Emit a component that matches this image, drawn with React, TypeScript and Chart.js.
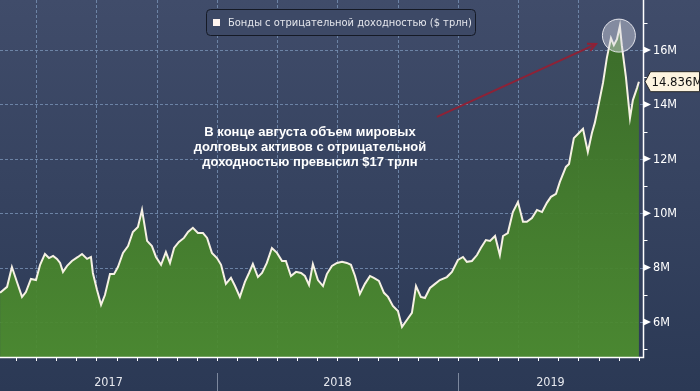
import React, { useEffect, useRef } from "react";
import { Chart, registerables } from "chart.js";
Chart.register(...registerables);

// decimal-year dates of each vertex
const dates = [
  2017.100, 2017.129, 2017.149, 2017.170, 2017.191, 2017.207, 2017.228, 2017.249, 2017.266, 2017.286,
  2017.303, 2017.320, 2017.336, 2017.349, 2017.361, 2017.378, 2017.398, 2017.423, 2017.440, 2017.461,
  2017.477, 2017.485, 2017.502, 2017.519, 2017.535, 2017.556, 2017.573, 2017.589, 2017.610, 2017.631,
  2017.651, 2017.672, 2017.689, 2017.710, 2017.730, 2017.747, 2017.768, 2017.788, 2017.805, 2017.822,
  2017.842, 2017.863, 2017.880, 2017.900, 2017.921, 2017.942, 2017.959, 2017.979, 2018.000, 2018.017,
  2018.037, 2018.058, 2018.075, 2018.095, 2018.116, 2018.133, 2018.149, 2018.170, 2018.187, 2018.207,
  2018.228, 2018.249, 2018.270, 2018.286, 2018.307, 2018.328, 2018.349, 2018.365, 2018.382, 2018.398,
  2018.419, 2018.440, 2018.456, 2018.477, 2018.498, 2018.519, 2018.539, 2018.556, 2018.573, 2018.593,
  2018.614, 2018.635, 2018.651, 2018.672, 2018.693, 2018.710, 2018.730, 2018.751, 2018.768, 2018.788,
  2018.809, 2018.826, 2018.846, 2018.863, 2018.884, 2018.905, 2018.925, 2018.954, 2018.975, 2019.000,
  2019.021, 2019.037, 2019.058, 2019.079, 2019.095, 2019.116, 2019.133, 2019.154, 2019.174, 2019.187,
  2019.207, 2019.228, 2019.249, 2019.270, 2019.286, 2019.307, 2019.328, 2019.349, 2019.369, 2019.386,
  2019.407, 2019.423, 2019.448, 2019.461, 2019.481, 2019.498, 2019.519, 2019.539, 2019.556, 2019.568,
  2019.581, 2019.602, 2019.618, 2019.635, 2019.647, 2019.660, 2019.672, 2019.680, 2019.697, 2019.714,
  2019.726, 2019.743, 2019.751,
];

// negative-yield bonds, $ trillion (shown as "M" on the axis)
const values = [
  7.07, 7.29, 8.02, 7.47, 6.92, 7.10, 7.58, 7.54, 8.10, 8.50,
  8.35, 8.43, 8.32, 8.17, 7.84, 8.06, 8.24, 8.39, 8.50, 8.32,
  8.39, 7.80, 7.18, 6.63, 6.99, 7.76, 7.76, 8.02, 8.54, 8.79,
  9.31, 9.49, 10.12, 8.98, 8.79, 8.39, 8.10, 8.57, 8.17, 8.72,
  8.94, 9.09, 9.31, 9.46, 9.27, 9.27, 9.09, 8.54, 8.35, 8.10,
  7.40, 7.62, 7.32, 6.92, 7.47, 7.80, 8.13, 7.65, 7.80, 8.17,
  8.72, 8.54, 8.24, 8.24, 7.69, 7.84, 7.80, 7.69, 7.36, 8.13,
  7.54, 7.32, 7.76, 8.06, 8.17, 8.21, 8.17, 8.10, 7.69, 7.03,
  7.40, 7.69, 7.62, 7.51, 7.07, 6.92, 6.59, 6.40, 5.82, 6.07,
  6.33, 7.32, 6.92, 6.88, 7.25, 7.40, 7.54, 7.65, 7.84, 8.28,
  8.39, 8.21, 8.24, 8.46, 8.72, 9.01, 8.98, 9.16, 8.46, 9.16,
  9.27, 10.04, 10.41, 9.68, 9.68, 9.82, 10.12, 10.04, 10.38, 10.60,
  10.71, 11.15, 11.70, 11.81, 12.76, 12.91, 13.10, 12.25, 12.95, 13.32,
  13.87, 14.79, 15.71, 16.44, 16.18, 16.40, 16.88, 16.18, 15.01, 13.50,
  14.16, 14.60, 14.836,
];

const yMajorTicks = [6, 8, 10, 12, 14, 16];
const yMinorTicks = [5, 7, 9, 11, 13, 15, 17];
const yearStarts = [2017, 2018, 2019];
const yearLabels = ["2017", "2018", "2019"];
const lastValueLabel = "14.836M";
const legendLabel = "Бонды с отрицательной доходностью ($ трлн)";
const noteLines = [
  "В конце августа объем мировых",
  "долговых активов с отрицательной",
  "доходностью превысил $17 трлн",
];

const X_MIN = 2017.0996;
const X_MAX = 2019.768;
const Y_MIN = 4.71;
const Y_MAX = 17.84;

const AXIS_FONT = "'DejaVu Sans Condensed', 'Liberation Sans Narrow', 'DejaVu Sans', sans-serif";

const decorPlugin = {
  id: "decor",
  beforeDraw(chart: any) {
    const { ctx, width, height } = chart;
    const g = ctx.createLinearGradient(0, 0, 0, height);
    g.addColorStop(0, "#404c6a");
    g.addColorStop(1, "#2b3955");
    ctx.save();
    ctx.fillStyle = g;
    ctx.fillRect(0, 0, width, height);
    ctx.restore();
  },
  beforeDatasetsDraw(chart: any) {
    const { ctx, chartArea } = chart;
    const xs = chart.scales.x;
    const ys = chart.scales.y;
    ctx.save();
    ctx.strokeStyle = "rgba(118,142,178,0.85)";
    ctx.lineWidth = 1;
    ctx.setLineDash([3, 2]);
    yMajorTicks.forEach((v) => {
      const y = Math.round(ys.getPixelForValue(v)) + 0.5;
      ctx.beginPath();
      ctx.moveTo(chartArea.left, y);
      ctx.lineTo(chartArea.right, y);
      ctx.stroke();
    });
    for (let q = 2017; q <= 2019.75; q += 0.25) {
      const x = Math.round(xs.getPixelForValue(q)) + 0.5;
      if (x <= chartArea.left + 2 || x >= chartArea.right - 6) continue;
      ctx.beginPath();
      ctx.moveTo(x, chartArea.top);
      ctx.lineTo(x, chartArea.bottom);
      ctx.stroke();
    }
    ctx.restore();
  },
  afterDatasetsDraw(chart: any) {
    const { ctx, chartArea, width, height } = chart;
    const xs = chart.scales.x;
    const ys = chart.scales.y;
    ctx.save();

    // axes lines
    ctx.strokeStyle = "#ffffff";
    ctx.lineWidth = 1.5;
    ctx.beginPath();
    ctx.moveTo(chartArea.left, chartArea.bottom + 0.5);
    ctx.lineTo(chartArea.right + 0.5, chartArea.bottom + 0.5);
    ctx.lineTo(chartArea.right + 0.5, chartArea.top);
    ctx.stroke();

    // monthly ticks on x axis
    ctx.lineWidth = 1;
    for (let m = 0; m < 12 * 3; m++) {
      const t = 2017 + m / 12;
      const x = Math.round(xs.getPixelForValue(t)) + 0.5;
      if (x < chartArea.left + 2 || x > chartArea.right - 2) continue;
      ctx.beginPath();
      ctx.moveTo(x, chartArea.bottom + 1);
      ctx.lineTo(x, chartArea.bottom + 4);
      ctx.stroke();
    }

    // year separators and labels
    ctx.strokeStyle = "rgba(160,170,190,0.7)";
    yearStarts.forEach((yr, i) => {
      const x0 = Math.max(chartArea.left, xs.getPixelForValue(yr));
      const x1 = Math.min(chartArea.right, xs.getPixelForValue(yr + 1));
      if (i > 0) {
        const xx = Math.round(x0) + 0.5;
        ctx.beginPath();
        ctx.moveTo(xx, chartArea.bottom + 16);
        ctx.lineTo(xx, height);
        ctx.stroke();
      }
      ctx.fillStyle = "#e6e8ee";
      ctx.font = "12.5px " + AXIS_FONT;
      ctx.textAlign = "center";
      ctx.textBaseline = "middle";
      ctx.fillText(yearLabels[i], (x0 + x1) / 2, chartArea.bottom + 26);
    });

    // y axis ticks and labels
    const ax = chartArea.right + 0.5;
    ctx.fillStyle = "#ffffff";
    ctx.strokeStyle = "#ffffff";
    yMinorTicks.forEach((v) => {
      const y = Math.round(ys.getPixelForValue(v)) + 0.5;
      ctx.beginPath();
      ctx.moveTo(ax, y);
      ctx.lineTo(ax + 4, y);
      ctx.stroke();
    });
    ctx.font = "12.5px " + AXIS_FONT;
    ctx.textAlign = "left";
    ctx.textBaseline = "middle";
    yMajorTicks.forEach((v) => {
      const y = ys.getPixelForValue(v);
      ctx.beginPath();
      ctx.moveTo(ax, y - 3.5);
      ctx.lineTo(ax + 7.5, y);
      ctx.lineTo(ax, y + 3.5);
      ctx.closePath();
      ctx.fill();
      ctx.fillText(v + "M", ax + 9.5, y + 0.5);
    });

    // last value flag
    const lv = values[values.length - 1];
    const ly = ys.getPixelForValue(lv);
    ctx.beginPath();
    ctx.moveTo(ax + 1.5, ly);
    ctx.lineTo(ax + 7, ly - 10);
    ctx.lineTo(width - 0.5, ly - 10);
    ctx.lineTo(width - 0.5, ly + 10);
    ctx.lineTo(ax + 7, ly + 10);
    ctx.closePath();
    ctx.fillStyle = "#fdf4e0";
    ctx.fill();
    ctx.strokeStyle = "#2a2a2a";
    ctx.lineWidth = 1;
    ctx.stroke();
    ctx.fillStyle = "#111111";
    ctx.font = "13px " + AXIS_FONT;
    ctx.fillText(lastValueLabel, ax + 8, ly + 0.5);

    // peak circle
    const cx = xs.getPixelForValue(2019.668);
    const cy = ys.getPixelForValue(16.53);
    ctx.beginPath();
    ctx.arc(cx, cy, 16.5, 0, Math.PI * 2);
    ctx.fillStyle = "rgba(215,218,228,0.45)";
    ctx.fill();
    ctx.strokeStyle = "rgba(240,240,245,0.9)";
    ctx.lineWidth = 1;
    ctx.stroke();

    // arrow
    const a0x = xs.getPixelForValue(2018.913);
    const a0y = ys.getPixelForValue(13.54);
    const a1x = xs.getPixelForValue(2019.573);
    const a1y = ys.getPixelForValue(16.22);
    ctx.strokeStyle = "#8e2236";
    ctx.lineWidth = 2;
    ctx.beginPath();
    ctx.moveTo(a0x, a0y);
    ctx.lineTo(a1x, a1y);
    ctx.stroke();
    const ang = Math.atan2(a1y - a0y, a1x - a0x);
    ctx.beginPath();
    ctx.moveTo(a1x - 9 * Math.cos(ang - 0.45), a1y - 9 * Math.sin(ang - 0.45));
    ctx.lineTo(a1x, a1y);
    ctx.lineTo(a1x - 9 * Math.cos(ang + 0.45), a1y - 9 * Math.sin(ang + 0.45));
    ctx.stroke();

    // note text
    ctx.fillStyle = "#ffffff";
    ctx.font = "bold 13px 'Liberation Sans', Arial, sans-serif";
    ctx.textAlign = "center";
    const nx = xs.getPixelForValue(2018.386);
    noteLines.forEach((line, i) => {
      ctx.fillText(line, nx, 132 + i * 15);
    });

    // legend
    const lx = 206.5, ly0 = 9.5, lw = 269, lh = 26;
    const r = 4;
    ctx.beginPath();
    ctx.moveTo(lx + r, ly0);
    ctx.lineTo(lx + lw - r, ly0);
    ctx.quadraticCurveTo(lx + lw, ly0, lx + lw, ly0 + r);
    ctx.lineTo(lx + lw, ly0 + lh - r);
    ctx.quadraticCurveTo(lx + lw, ly0 + lh, lx + lw - r, ly0 + lh);
    ctx.lineTo(lx + r, ly0 + lh);
    ctx.quadraticCurveTo(lx, ly0 + lh, lx, ly0 + lh - r);
    ctx.lineTo(lx, ly0 + r);
    ctx.quadraticCurveTo(lx, ly0, lx + r, ly0);
    ctx.closePath();
    ctx.fillStyle = "#3d4966";
    ctx.fill();
    ctx.strokeStyle = "#151a26";
    ctx.lineWidth = 1;
    ctx.stroke();
    ctx.fillStyle = "#fff4f0";
    ctx.fillRect(213, 19, 7, 7);
    ctx.fillStyle = "#e4e6ec";
    ctx.font = "11px " + AXIS_FONT;
    ctx.textAlign = "left";
    ctx.textBaseline = "middle";
    ctx.fillText(legendLabel, 228, 23);

    ctx.restore();
  },
};

export default function App() {
  const ref = useRef<HTMLCanvasElement | null>(null);
  useEffect(() => {
    document.body.style.margin = "0";
    const canvas = ref.current;
    if (!canvas) return;
    const chart = new Chart(canvas, {
      type: "line",
      data: {
        datasets: [
          {
            label: legendLabel,
            data: dates.map((d, i) => ({ x: d, y: values[i] })),
            borderColor: "#f6f1e4",
            borderWidth: 2,
            pointRadius: 0,
            tension: 0,
            fill: "start",
            backgroundColor: (c: any) => {
              const area = c.chart.chartArea;
              if (!area) return "#4a882e";
              const g = c.chart.ctx.createLinearGradient(0, area.top, 0, area.bottom);
              g.addColorStop(0, "rgba(58,108,38,0.94)");
              g.addColorStop(1, "rgba(76,140,47,0.94)");
              return g;
            },
          },
        ],
      },
      options: {
        responsive: false,
        animation: false,
        layout: { padding: { left: 0, right: 57, top: 0, bottom: 34 } },
        plugins: { legend: { display: false }, tooltip: { enabled: false } },
        scales: {
          x: { type: "linear", min: X_MIN, max: X_MAX, display: false },
          y: { type: "linear", min: Y_MIN, max: Y_MAX, display: false },
        },
      },
      plugins: [decorPlugin],
    });
    return () => chart.destroy();
  }, []);
  return (
    <div style={{ width: 700, height: 391 }}>
      <canvas ref={ref} width={700} height={391} style={{ display: "block" }} />
    </div>
  );
}
